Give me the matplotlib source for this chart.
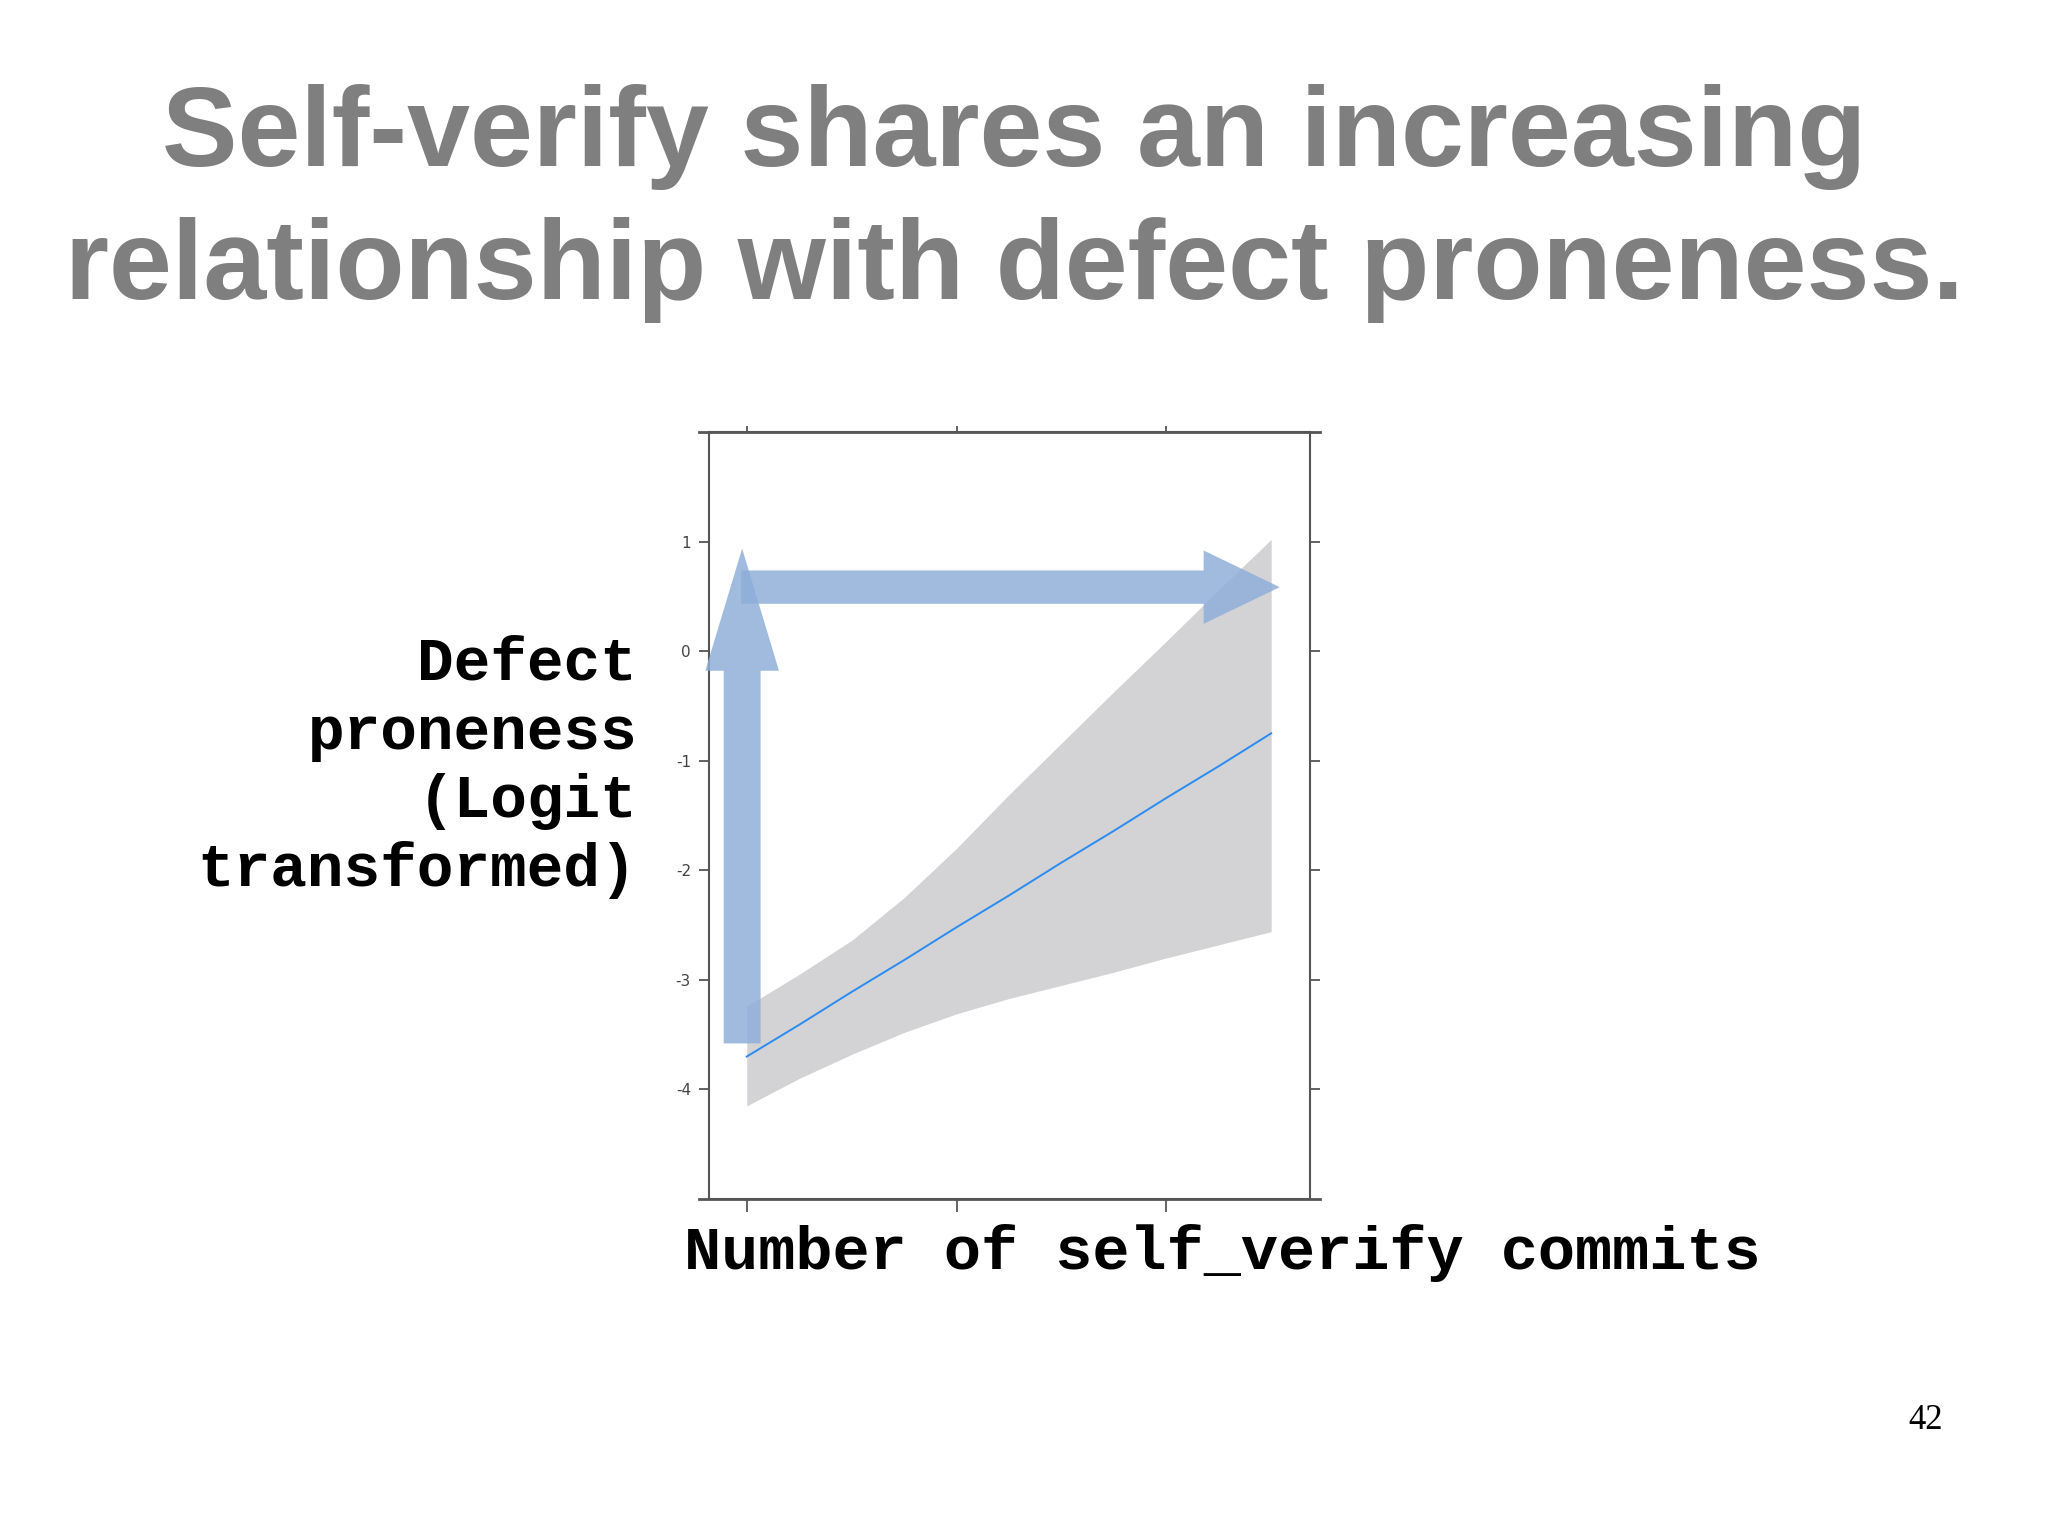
import matplotlib
matplotlib.use("Agg")
import matplotlib.pyplot as plt
from matplotlib.patches import FancyArrow
from matplotlib.lines import Line2D

plt.rcParams['axes.unicode_minus'] = False

# ---- data ----
commit_x = [0, 0.25, 0.5, 0.75, 1.0, 1.25, 1.5, 1.75, 2.0, 2.25, 2.5]
fit_logit = [-3.70, -3.41, -3.11, -2.82, -2.52, -2.23, -1.93, -1.64, -1.34, -1.05, -0.75]
upper_ci = [-3.24, -2.95, -2.64, -2.25, -1.80, -1.31, -0.84, -0.37, 0.09, 0.56, 1.02]
lower_ci = [-4.15, -3.90, -3.68, -3.48, -3.31, -3.17, -3.05, -2.93, -2.80, -2.68, -2.56]
y_ticks = [-4, -3, -2, -1, 0, 1]
y_tick_labels = ["-4", "-3", "-2", "-1", "0", "1"]
x_ticks = [0, 1, 2]

title_lines = ["Self-verify shares an increasing", "relationship with defect proneness."]
ylabel_lines = ["Defect", "proneness", "(Logit", "transformed)"]
xlabel_text = "Number of self_verify commits"
page_number = "42"

W, H = 2048, 1534
fig = plt.figure(figsize=(W / 100, H / 100), dpi=100)
fig.patch.set_facecolor("white")

def fx(px):
    return px / W

def fy(py):
    return 1 - py / H

ax_l, ax_r, ax_t, ax_b = 709, 1310, 432, 1199
ax = fig.add_axes([fx(ax_l), fy(ax_b), (ax_r - ax_l) / W, (ax_b - ax_t) / H])
ax.set_facecolor("white")

ax.fill_between(commit_x, lower_ci, upper_ci, color="#d3d3d5", linewidth=0, zorder=1)
ax.plot(commit_x, fit_logit, color="#2a8cf0", linewidth=1.4, zorder=2)

ax.set_xlim(-0.18, 2.685)
ax.set_ylim(-5, 2)
ax.set_yticks(y_ticks)
ax.set_yticklabels(y_tick_labels)
ax.set_xticks(x_ticks)
ax.set_xticklabels([])

spine_col = "#555555"
for s in ax.spines.values():
    s.set_color(spine_col)
    s.set_linewidth(1.5)

ax.tick_params(axis="y", which="both", left=True, right=True, direction="out",
               length=7, width=1.3, color=spine_col, labelsize=11,
               labelcolor="#444444", pad=6)
ax.tick_params(axis="x", which="both", bottom=True, top=True, direction="out",
               length=9.5, width=1.3, color=spine_col)
for t in ax.xaxis.get_major_ticks():
    t.tick2line.set_markersize(4)

# extend top/bottom frame lines slightly past the box (lattice style)
for yy in (0, 1):
    ax.add_line(Line2D([-0.017, 1.017], [yy, yy], transform=ax.transAxes,
                       color=spine_col, linewidth=2.0, clip_on=False, zorder=5))

# overlay arrows (in data coordinates)
arrow_col = "#8fafd9"
va = FancyArrow(-0.022, -3.58, 0, 0.936 + 3.58, width=0.176, head_width=0.351,
                head_length=1.115, length_includes_head=True,
                color=arrow_col, alpha=0.85, linewidth=0, zorder=4)
ha_ = FancyArrow(-0.027, 0.584, 2.541 + 0.027, 0, width=0.304, head_width=0.669,
                 head_length=0.363, length_includes_head=True,
                 color=arrow_col, alpha=0.85, linewidth=0, zorder=4)
ax.add_patch(va)
ax.add_patch(ha_)
va.set_clip_on(False)
ha_.set_clip_on(False)

# title
title_col = "#7f7f7f"
fig.text(fx(1014), fy(166), title_lines[0], ha="center", va="baseline",
         fontsize=81.5, fontweight="bold", color=title_col, family="Liberation Sans")
fig.text(fx(1014), fy(299), title_lines[1], ha="center", va="baseline",
         fontsize=81.5, fontweight="bold", color=title_col, family="Liberation Sans")

# y label (monospace, right aligned)
for i, line in enumerate(ylabel_lines):
    fig.text(fx(637), fy(680 + i * 68.7), line, ha="right", va="baseline",
             fontsize=44, fontweight="bold", color="black", family="Liberation Mono")

# x label
fig.text(fx(684), fy(1269), xlabel_text, ha="left", va="baseline",
         fontsize=44.6, fontweight="bold", color="black", family="Liberation Mono")

# page number
fig.text(fx(1943), fy(1429), page_number, ha="right", va="baseline",
         fontsize=25, color="black", family="Liberation Serif")

fig.savefig("out.png", dpi=100, facecolor="white")
